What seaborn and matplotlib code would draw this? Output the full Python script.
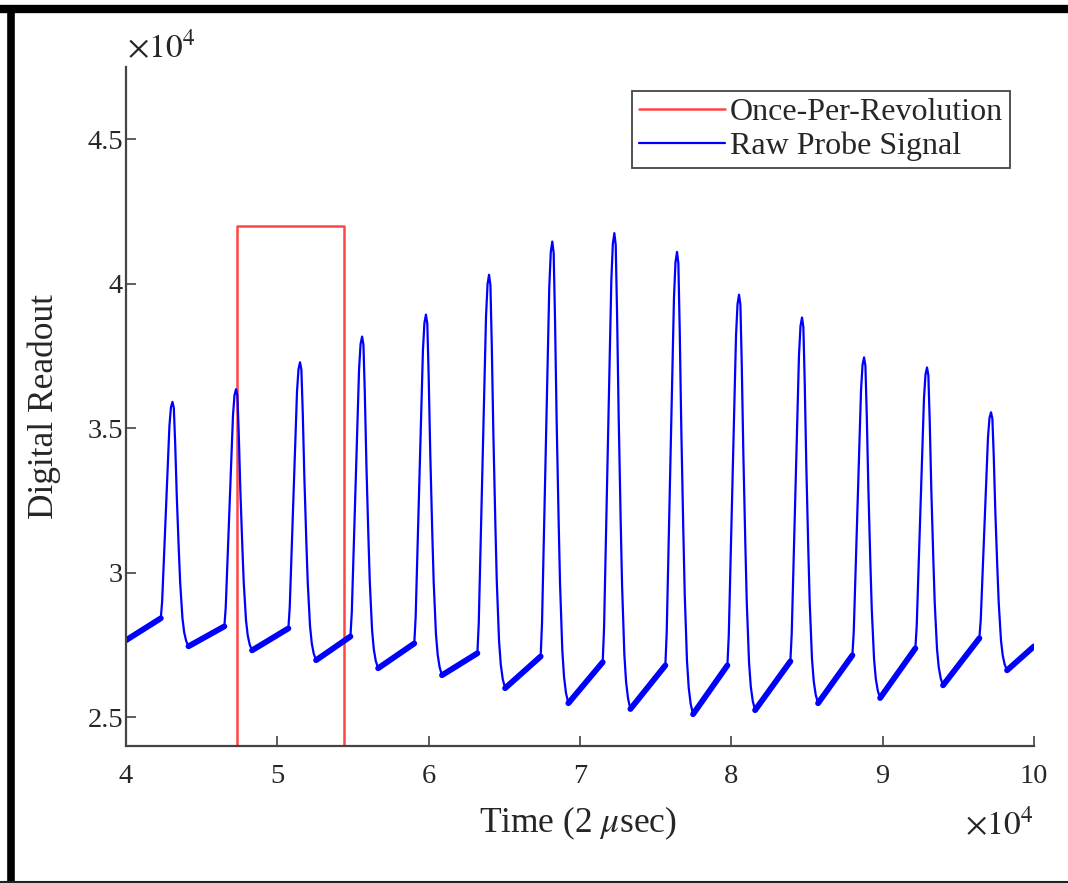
import matplotlib
matplotlib.use("Agg")
import numpy as np
import pandas as pd
import seaborn as sns
import matplotlib.pyplot as plt
from matplotlib.lines import Line2D

# ---------------- data ----------------
peak_time = [43070, 47270, 51500, 55600, 59820, 63990, 68170,
             72270, 76410, 80510, 84670, 88770, 92930, 97160]
peak_value = [35910, 36350, 37280, 38170, 38930, 40310, 41460,
              41750, 41100, 39620, 38830, 37450, 37100, 35550]
foot_value = [28420, 28140, 28070, 27790, 27550, 27210, 27100,
              26900, 26790, 26790, 26930, 27140, 27380, 27730]
trough_value = [27450, 27310, 26970, 26690, 26450, 26000, 25480,
                25280, 25100, 25240, 25480, 25660, 26100, 26620]
start_time, start_value = 40000, 27660
end_time, end_value = 100000, 27450
# pulse shape read from one pulse (time offset from peak, fraction of height)
rise_offset = [-770, -680, -200, -100, 0]
rise_fraction = [0.0, 0.08, 0.89, 0.975, 1.0]
fall_offset = [90, 180, 285, 415, 510, 660, 775, 905, 1060]
fall_fraction = [0.975, 0.83, 0.615, 0.40, 0.26, 0.115, 0.057, 0.022, 0.0]

opr_time = [40000, 47340, 47340, 54400, 54400, 100000]
opr_value = [0, 0, 42000, 42000, 0, 0]

x_ticks = [40000, 50000, 60000, 70000, 80000, 90000, 100000]
x_tick_labels = ["4", "5", "6", "7", "8", "9", "10"]
y_ticks = [25000, 30000, 35000, 40000, 45000]
y_tick_labels = ["2.5", "3", "3.5", "4", "4.5"]

# ---------------- build the trace ----------------
xs, ys = [start_time], [start_value]
band_rows = []
seg = 0
band_rows.append((seg, start_time, start_value))
for i in range(len(peak_time)):
    pt, pv, fv, tv = peak_time[i], peak_value[i], foot_value[i], trough_value[i]
    for k, (off, fr) in enumerate(zip(rise_offset, rise_fraction)):
        x, y = pt + off, fv + fr * (pv - fv)
        xs.append(x); ys.append(y)
        if k == 0:
            band_rows.append((seg, x, y))
    seg += 1
    for off, fr in zip(fall_offset, fall_fraction):
        xs.append(pt + off); ys.append(tv + fr * (pv - tv))
    band_rows.append((seg, pt + fall_offset[-1], tv))
xs.append(end_time); ys.append(end_value)
band_rows.append((seg, end_time, end_value))

sig = pd.DataFrame({"t": xs, "v": ys, "series": "Raw Probe Signal"})
band = pd.DataFrame(band_rows, columns=["seg", "t", "v"])
opr = pd.DataFrame({"t": opr_time, "v": opr_value, "series": "Once-Per-Revolution"})

# ---------------- style ----------------
sns.set_style("ticks")
plt.rcParams["font.family"] = ["Liberation Serif", "DejaVu Serif"]
plt.rcParams["mathtext.fontset"] = "stix"

W, H = 1068, 883
fig = plt.figure(figsize=(W / 100, H / 100), dpi=100)
fig.patch.set_facecolor("white")
ax = fig.add_axes([126 / W, (H - 746) / H, (1034 - 126) / W, (746 - 67) / H])

blue = "#0000FF"
red = "#FF4545"

sns.lineplot(data=opr, x="t", y="v", sort=False, estimator=None, color=red,
             lw=1.8, ax=ax, legend=False)
sns.lineplot(data=band, x="t", y="v", units="seg", sort=False, estimator=None,
             color=blue, lw=4.2, ax=ax, legend=False, solid_capstyle="round",
             solid_joinstyle="round")
sns.lineplot(data=sig, x="t", y="v", sort=False, estimator=None, color=blue,
             lw=1.6, ax=ax, legend=False)

ax.set_xlim(40000, 100000)
ax.set_ylim(24000, 47500)
ax.set_xticks(x_ticks)
ax.set_xticklabels(x_tick_labels)
ax.set_yticks(y_ticks)
ax.set_yticklabels(y_tick_labels)

grey = "#262626"
for s in ["top", "right"]:
    ax.spines[s].set_visible(False)
for s in ["left", "bottom"]:
    ax.spines[s].set_color("#444444")
    ax.spines[s].set_linewidth(1.6)
ax.tick_params(axis="both", direction="in", length=7, width=1.2,
               colors="#444444", labelcolor=grey, labelsize=20.5)
ax.tick_params(axis="x", pad=13)
ax.tick_params(axis="y", pad=2)

ax.set_xlabel("Time (2 $\\mu$sec)", fontsize=25.5, color=grey)
ax.set_ylabel("Digital Readout", fontsize=25.5, color=grey)
ax.xaxis.set_label_coords(0.498, -0.087)
ax.yaxis.set_label_coords(-0.072, 0.5)

fig.text(127 / W, 1 - 58 / H, "$\\times 10^{4}$", fontsize=24, color=grey,
         ha="left", va="baseline")
fig.text(1033 / W, 1 - 835 / H, "$\\times 10^{4}$", fontsize=24, color=grey,
         ha="right", va="baseline")

handles = [Line2D([], [], color=red, lw=1.8), Line2D([], [], color=blue, lw=1.6)]
leg = ax.legend(handles, ["Once-Per-Revolution", "Raw Probe Signal"],
                loc="upper right", bbox_to_anchor=(1010 / W, 1 - 91 / H),
                bbox_transform=fig.transFigure, borderaxespad=0,
                fontsize=23, frameon=True, fancybox=False, framealpha=1,
                edgecolor="#444444", handlelength=2.7, handletextpad=0.15,
                labelspacing=0.12, borderpad=0.22)
leg.get_frame().set_linewidth(1.3)

# outer black frame
fig.add_artist(Line2D([0, 1], [1 - 9 / H, 1 - 9 / H], color="black", lw=6,
                      transform=fig.transFigure, solid_capstyle="butt"))
fig.add_artist(Line2D([10.5 / W, 10.5 / W], [0, 1 - 5 / H], color="black", lw=5.5,
                      transform=fig.transFigure, solid_capstyle="butt"))
fig.add_artist(Line2D([0, 1], [1.5 / H, 1.5 / H], color="#222222", lw=1.5,
                      transform=fig.transFigure, solid_capstyle="butt"))

fig.savefig("out.png", dpi=100, facecolor="white")
